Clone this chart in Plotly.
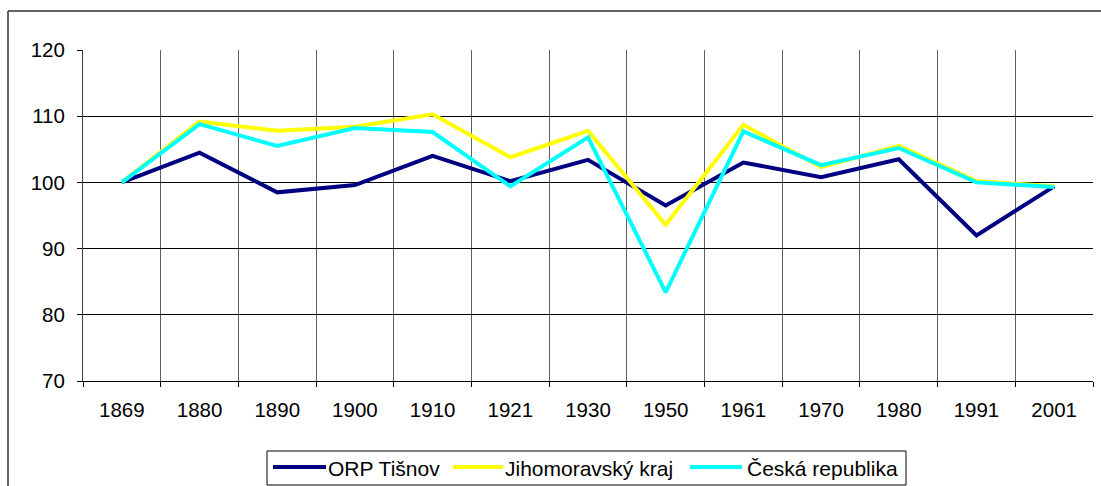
import plotly.graph_objects as go

years = ["1869", "1880", "1890", "1900", "1910", "1921", "1930", "1950", "1961", "1970", "1980", "1991", "2001"]
tisnov = [100.0, 104.5, 98.5, 99.6, 104.0, 100.2, 103.4, 96.5, 103.0, 100.8, 103.5, 92.0, 99.4]
jihomoravsky = [100.0, 109.2, 107.8, 108.4, 110.3, 103.8, 107.8, 93.6, 108.7, 102.3, 105.5, 100.2, 99.4]
ceska = [100.0, 108.8, 105.5, 108.2, 107.6, 99.4, 106.8, 83.4, 107.7, 102.6, 105.2, 100.0, 99.3]

names = ["ORP Tišnov", "Jihomoravský kraj", "Česká republika"]
colors = ["#000080", "#FFFF00", "#00FFFF"]

W, H = 1101, 486
L, R, T, B = 83, 8, 50, 105
pw = W - L - R
ph = H - T - B

font = "Liberation Sans, Arial, sans-serif"

fig = go.Figure()
for name, vals, col in zip(names, [tisnov, jihomoravsky, ceska], colors):
    fig.add_trace(go.Scatter(x=years, y=vals, mode="lines", name=name,
                             line=dict(color=col, width=4), showlegend=False))

def px_x(p):
    return (p - L) / pw

def px_y(p):
    return (H - B - p) / ph

shapes = [
    dict(type="line", xref="paper", yref="paper",
         x0=px_x(8), x1=px_x(W + 5), y0=px_y(11), y1=px_y(11),
         line=dict(color="#303030", width=1.5)),
    dict(type="line", xref="paper", yref="paper",
         x0=px_x(8), x1=px_x(8), y0=px_y(11), y1=px_y(H + 5),
         line=dict(color="#303030", width=1.5)),
    # legend box
    dict(type="rect", xref="paper", yref="paper",
         x0=px_x(267), x1=px_x(906), y0=px_y(451), y1=px_y(485),
         line=dict(color="black", width=1), fillcolor="white"),
]
annotations = []
legend_line_x = [(273, 326), (453, 503), (690, 742)]
legend_text_x = [326, 503, 745]
ly = 467
for name, col, (lx0, lx1), tx in zip(names, colors, legend_line_x, legend_text_x):
    shapes.append(dict(type="line", xref="paper", yref="paper",
                       x0=px_x(lx0), x1=px_x(lx1), y0=px_y(ly), y1=px_y(ly),
                       line=dict(color=col, width=4)))
    annotations.append(dict(text=name, xref="paper", yref="paper",
                            x=px_x(tx), y=px_y(ly + 1), xanchor="left", yanchor="middle",
                            showarrow=False, font=dict(family=font, size=21, color="black")))

fig.update_layout(
    width=W, height=H,
    margin=dict(l=L, r=R, t=T, b=B, autoexpand=False),
    paper_bgcolor="white", plot_bgcolor="white",
    font=dict(family=font, size=20.5, color="black"),
    showlegend=False,
    xaxis=dict(type="category", range=[-0.5, 12.5], tickson="boundaries",
               showgrid=True, gridcolor="#606060", gridwidth=1,
               showline=True, linecolor="black", linewidth=1,
               ticks="outside", ticklen=5, tickcolor="black",
               ticklabelstandoff=10, fixedrange=True, automargin=False),
    yaxis=dict(range=[70, 120], dtick=10, tick0=70,
               showgrid=True, gridcolor="black", gridwidth=1,
               showline=True, linecolor="#404040", linewidth=1,
               ticks="outside", ticklen=5, tickcolor="black",
               ticklabelstandoff=8, zeroline=False, fixedrange=True, automargin=False),
    shapes=shapes,
    annotations=annotations,
)

fig.write_html("out.html", config={"displayModeBar": False},
               post_script="document.body.style.margin='0';document.body.style.overflow='hidden';")
